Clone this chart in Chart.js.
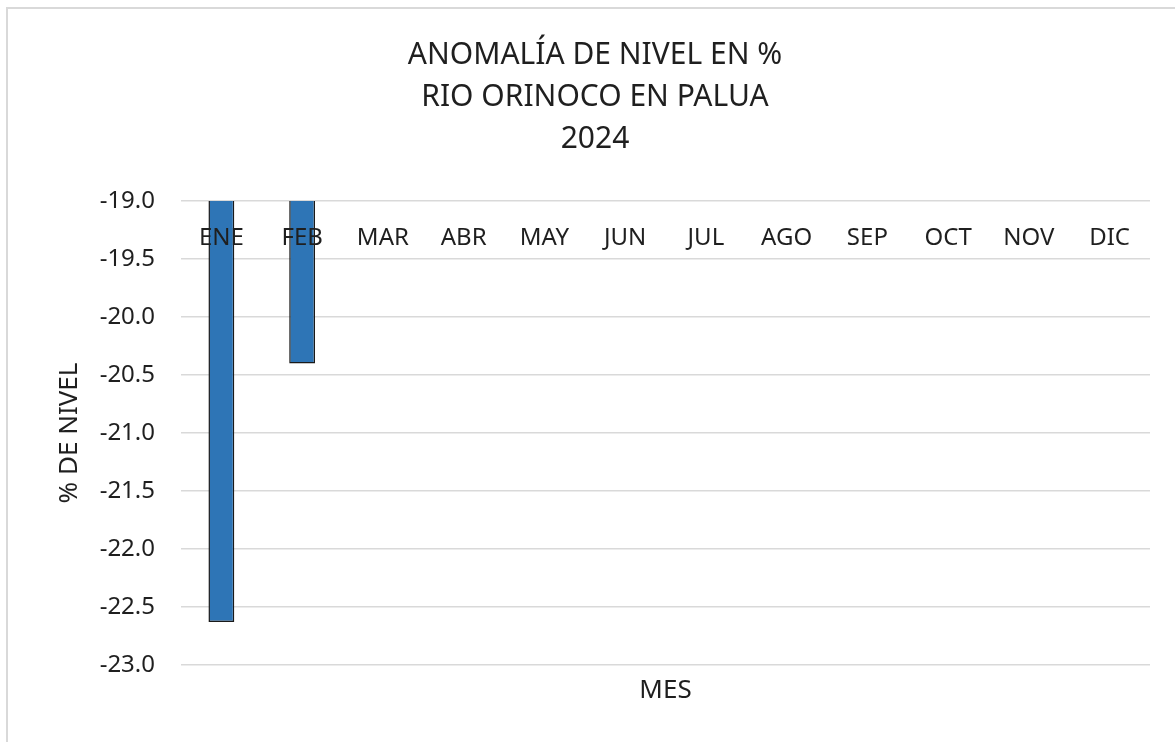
<!DOCTYPE html>
<html>
<head>
<meta charset="utf-8">
<script src="https://cdn.jsdelivr.net/npm/chart.js@4/dist/chart.umd.min.js"></script>
<style>
  html, body { margin: 0; padding: 0; background: #fff; }
  #wrap {
    position: absolute; left: 6px; top: 7px;
    width: 1169px; height: 735px;
    border-left: 2px solid #d9d9d9; border-top: 2px solid #d9d9d9;
  }
  canvas { display: block; }
</style>
</head>
<body>
<div id="wrap"><canvas id="chart" width="1169" height="735"></canvas></div>
<script>
// data
const meses = ["ENE", "FEB", "MAR", "ABR", "MAY", "JUN", "JUL", "AGO", "SEP", "OCT", "NOV", "DIC"];
const anomalia = [-22.63, -20.40, null, null, null, null, null, null, null, null, null, null];
const titulo = ["ANOMALÍA DE NIVEL EN %", "RIO ORINOCO EN PALUA", "2024"];
const yMin = -23.0;
const yMax = -19.0;
const yStep = 0.5;

const FONT = "'Noto Sans', sans-serif";
const TEXT = "#1f1f1f";

// month labels sit just under the top line (axis crosses at 0, above the max)
const monthLabels = {
    id: "monthLabels",
    afterDatasetsDraw(chart) {
        const { ctx, chartArea, scales } = chart;
        ctx.save();
        ctx.font = "24px " + FONT;
        ctx.fillStyle = TEXT;
        ctx.textAlign = "center";
        ctx.textBaseline = "middle";
        meses.forEach((m, i) => {
            ctx.fillText(m, scales.x.getPixelForValue(i), chartArea.top + 37);
        });
        ctx.restore();
    },
};

new Chart(document.getElementById("chart"), {
    type: "bar",
    data: {
        labels: meses,
        datasets: [
            {
                label: "% de nivel",
                data: anomalia,
                backgroundColor: "#2e75b6",
                borderColor: "#1a1a1a",
                borderWidth: 1.5,
                barPercentage: 0.32,
                categoryPercentage: 1.0,
            },
        ],
    },
    options: {
        responsive: false,
        animation: false,
        layout: { padding: { left: 32, right: 27, top: 0, bottom: 0 } },
        plugins: {
            legend: { display: false },
            tooltip: { enabled: false },
            title: {
                display: true,
                text: titulo,
                color: TEXT,
                font: { family: FONT, size: 30, weight: "normal", lineHeight: 1.4 },
                padding: { top: 25, bottom: 41 },
            },
        },
        scales: {
            x: {
                grid: { display: false },
                border: { display: false },
                ticks: { display: false },
                title: {
                    display: true,
                    text: "MES",
                    color: TEXT,
                    font: { family: FONT, size: 26, lineHeight: 1.2 },
                    padding: { top: 10, bottom: 38 },
                },
                afterFit: (s) => { s.height = 79; },
            },
            y: {
                min: yMin,
                max: yMax,
                ticks: {
                    stepSize: yStep,
                    color: TEXT,
                    font: { family: FONT, size: 24 },
                    padding: 26,
                    callback: (v) => v.toFixed(1),
                },
                grid: { color: "#d9d9d9", lineWidth: 1.5, drawTicks: false },
                border: { display: false },
                title: {
                    display: true,
                    text: "% DE NIVEL",
                    color: TEXT,
                    font: { family: FONT, size: 26, lineHeight: 1.2 },
                    padding: { top: 14, bottom: 4 },
                },
                afterFit: (s) => { s.width = 141; },
            },
        },
    },
    plugins: [monthLabels],
});
</script>
</body>
</html>
